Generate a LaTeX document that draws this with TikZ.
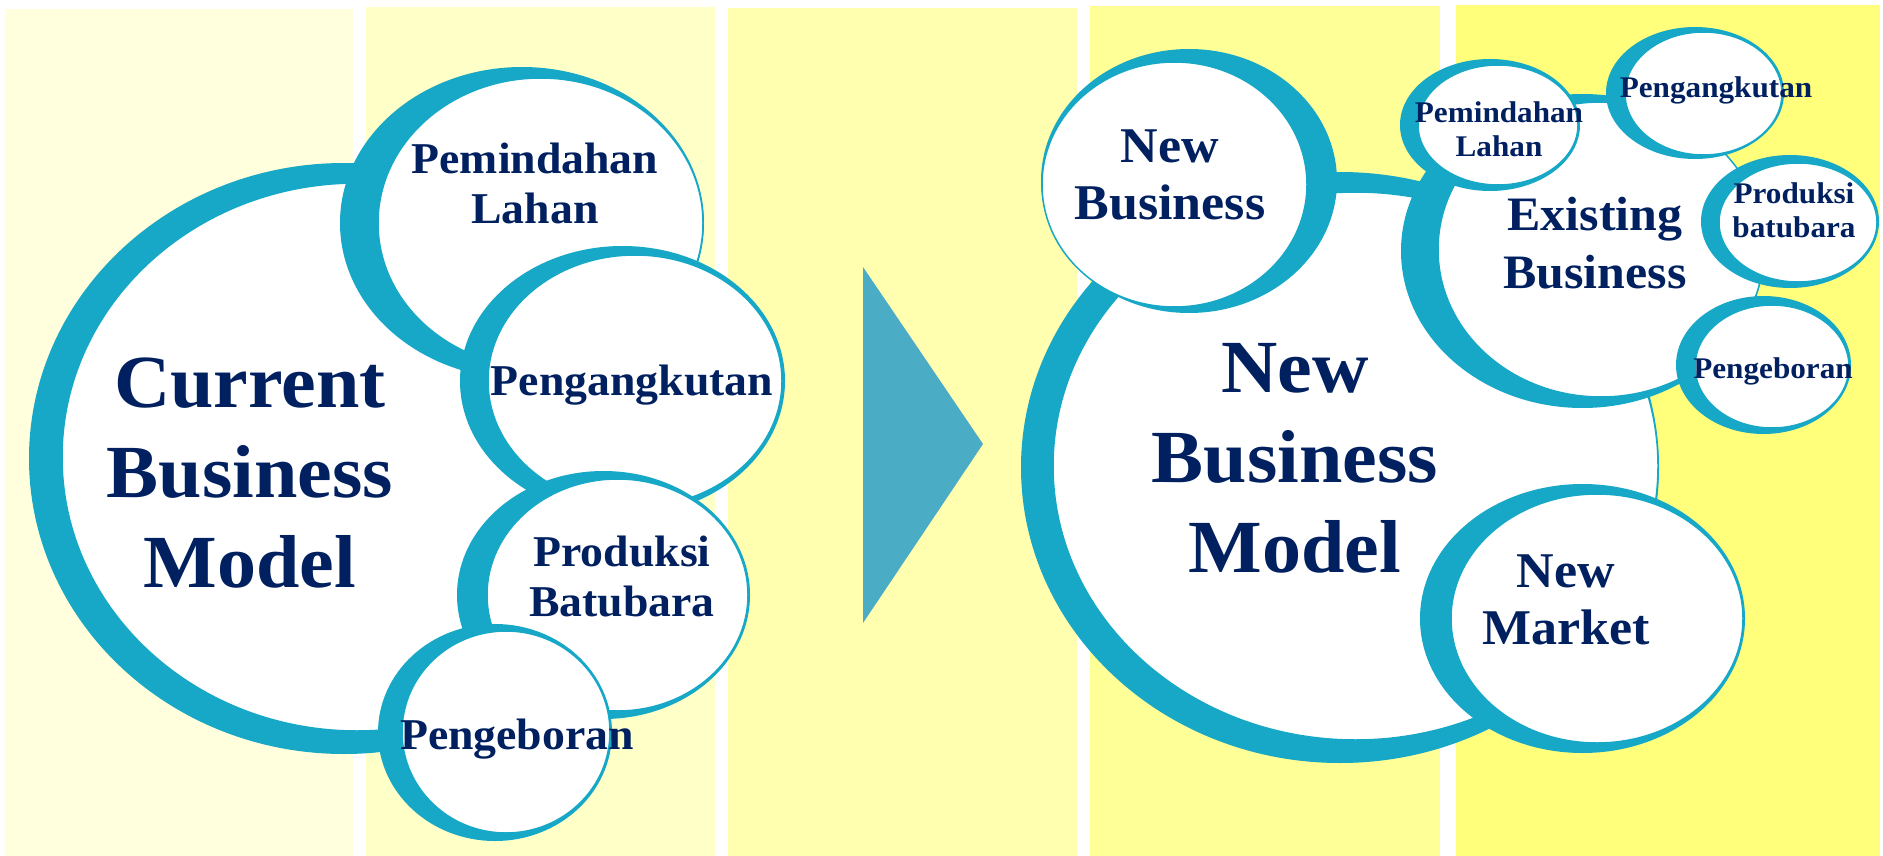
\documentclass[tikz,border=0pt]{standalone}
\usepackage{fontspec}
\setmainfont{Liberation Serif}[FakeStretch=1.04]
\definecolor{tealc}{RGB}{22,168,198}
\definecolor{arrowc}{RGB}{75,172,198}
\definecolor{navyc}{RGB}{0,32,96}
\definecolor{pone}{RGB}{255,255,222}
\definecolor{ptwo}{RGB}{255,255,200}
\definecolor{pthree}{RGB}{255,255,175}
\definecolor{pfour}{RGB}{255,255,152}
\definecolor{pfive}{RGB}{255,255,124}
\begin{document}
\begin{tikzpicture}[x=1pt,y=-1pt,
  outerband/.style={fill=tealc},
  innerwhite/.style={fill=white,draw=tealc,line width=1.5pt},
  bigtxt/.style={text=navyc,align=center,inner sep=0pt,font=\bfseries\fontsize{75}{90}\selectfont},
  midtxt/.style={text=navyc,align=center,inner sep=0pt,font=\bfseries\fontsize{44}{50}\selectfont},
  nbtxt/.style={text=navyc,align=center,inner sep=0pt,font=\bfseries\fontsize{50}{57}\selectfont},
  ebtxt/.style={text=navyc,align=center,inner sep=0pt,font=\bfseries\fontsize{48}{58}\selectfont},
  smtxt/.style={text=navyc,align=center,inner sep=0pt,font=\bfseries\fontsize{30}{34}\selectfont}]
\useasboundingbox (0,0) rectangle (1883,856);
\fill[white] (0,0) rectangle (1883,856);
% background panels
\fill[pone] (5,9) rectangle (353,856);
\fill[ptwo] (366,7) rectangle (715,856);
\fill[pthree] (728,8) rectangle (1077,856);
\fill[pfour] (1090,6) rectangle (1440,856);
\fill[pfive] (1456,5) rectangle (1880,856);

% ---------- left: current business model ----------
\fill[outerband] (344,458.5) ellipse [x radius=315pt, y radius=295.5pt];
\filldraw[innerwhite] (357,457) ellipse [x radius=295pt, y radius=274pt];
\fill[outerband] (522,223) ellipse [x radius=182pt, y radius=156pt];
\filldraw[innerwhite] (540.5,223) ellipse [x radius=162.5pt, y radius=145pt];
\fill[outerband] (622.5,381) ellipse [x radius=162.5pt, y radius=135pt];
\filldraw[innerwhite] (635,381) ellipse [x radius=147pt, y radius=126pt];
\fill[outerband] (603.5,595) ellipse [x radius=146.5pt, y radius=124pt];
\filldraw[innerwhite] (617.5,595) ellipse [x radius=130.5pt, y radius=116pt];
\fill[outerband] (495,732.5) ellipse [x radius=117pt, y radius=108.5pt];
\filldraw[innerwhite] (506,732) ellipse [x radius=104pt, y radius=101pt];

% arrow
\coordinate (atop) at (863,267);
\coordinate (atip) at (983,444);
\coordinate (abot) at (863,623);
\fill[arrowc] (atop) -- (atip) -- (abot) -- cycle;

% ---------- right: new business model ----------
\fill[outerband] (1340,467.5) ellipse [x radius=319pt, y radius=295.5pt];
\filldraw[innerwhite] (1355.5,466) ellipse [x radius=302.5pt, y radius=274pt];
\fill[outerband] (1189,181) ellipse [x radius=148pt, y radius=132pt];
\filldraw[innerwhite] (1174.5,184.5) ellipse [x radius=132.5pt, y radius=122.5pt];
\fill[outerband] (1582.5,251) ellipse [x radius=181.5pt, y radius=157pt];
\filldraw[innerwhite] (1601,249.5) ellipse [x radius=163pt, y radius=147.5pt];
\fill[outerband] (1490,125) ellipse [x radius=90pt, y radius=66pt];
\filldraw[innerwhite] (1498,125) ellipse [x radius=80pt, y radius=60pt];
\fill[outerband] (1695,93) ellipse [x radius=89pt, y radius=66pt];
\filldraw[innerwhite] (1703.5,93.5) ellipse [x radius=78.5pt, y radius=61.5pt];
\fill[outerband] (1790,221.5) ellipse [x radius=89pt, y radius=66.5pt];
\filldraw[innerwhite] (1798,222.5) ellipse [x radius=79pt, y radius=59.5pt];
\fill[outerband] (1763.5,365) ellipse [x radius=87.5pt, y radius=69pt];
\filldraw[innerwhite] (1772,366.5) ellipse [x radius=77pt, y radius=61.5pt];
\fill[outerband] (1582.5,618.5) ellipse [x radius=162.5pt, y radius=134.5pt];
\filldraw[innerwhite] (1597,618.5) ellipse [x radius=146pt, y radius=124.5pt];

% ---------- texts ----------
\node[bigtxt] (cbm) at (250,473) {Current\\Business\\Model};
\node[midtxt] (cpl) at (535,183.5) {Pemindahan\\Lahan};
\node[midtxt,anchor=base] (cpa) at (632,395) {Pengangkutan};
\node[midtxt] (cpr) at (622,576.5) {Produksi\\Batubara};
\node[midtxt,anchor=base] (cpe) at (517,749) {Pengeboran};

\node[bigtxt] (nbm) at (1295,458) {New\\Business\\Model};
\node[nbtxt] (nb) at (1170,174.5) {New\\Business};
\node[ebtxt] (eb) at (1595,243) {Existing\\Business};
\node[smtxt] (npl) at (1499,129) {Pemindahan\\Lahan};
\node[smtxt,anchor=base] (npa) at (1716,98) {Pengangkutan};
\node[smtxt] (npr) at (1794,210) {Produksi\\batubara};
\node[smtxt,anchor=base] (npe) at (1773,378) {Pengeboran};
\node[nbtxt] (nm) at (1566,599.5) {New\\Market};
\end{tikzpicture}
\end{document}
